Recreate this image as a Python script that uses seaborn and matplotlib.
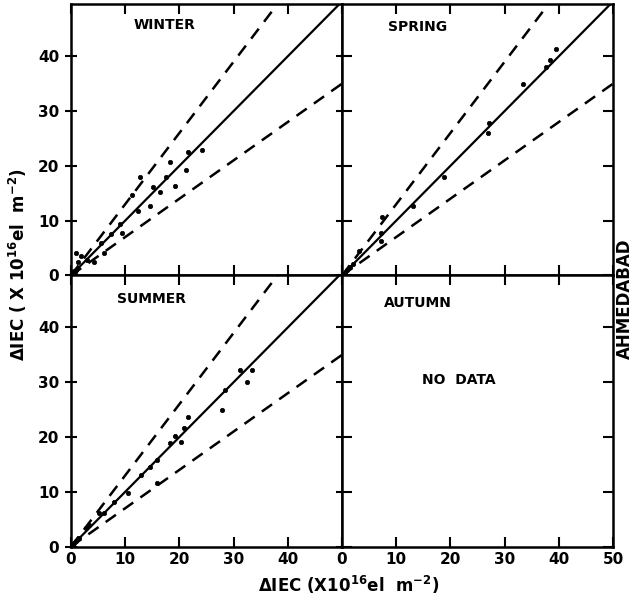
import numpy as np
import pandas as pd
import matplotlib
matplotlib.use("Agg")
import matplotlib.pyplot as plt
import seaborn as sns

# ---- data ----
winter_x = [0.3, 0.5, 0.8, 1.0, 1.2, 0.9, 1.8, 3.0, 4.2, 5.5, 6.1, 7.3, 9.1, 9.4,
            11.2, 12.4, 12.7, 14.5, 15.2, 16.4, 17.6, 18.2, 19.1, 21.2, 21.5, 24.2]
winter_y = [0.4, 0.8, 0.6, 1.0, 2.5, 4.1, 3.5, 2.8, 2.5, 5.9, 4.1, 7.5, 9.3, 7.8,
            14.6, 11.8, 18.0, 12.7, 16.1, 15.2, 18.0, 20.7, 16.4, 19.2, 22.6, 22.9]

spring_x = [0.5, 1.0, 1.5, 2.0, 3.1, 7.1, 7.1, 7.4, 13.0, 18.8, 26.9, 27.2, 33.3, 37.7, 38.3, 39.5]
spring_y = [0.5, 1.0, 1.5, 2.0, 4.4, 6.2, 7.8, 10.6, 12.7, 18.0, 26.0, 27.8, 34.9, 38.0, 39.3, 41.4]

summer_x = [0.3, 0.6, 1.0, 1.5, 2.7, 3.3, 5.2, 6.1, 7.9, 10.6, 13.0, 14.5, 15.8, 15.8,
            18.2, 19.1, 20.3, 20.9, 21.5, 27.9, 28.5, 31.2, 32.4, 33.3]
summer_y = [0.3, 0.6, 1.0, 1.5, 3.4, 4.0, 6.1, 6.1, 8.2, 9.8, 13.1, 14.6, 15.8, 11.6,
            18.9, 20.1, 19.1, 21.6, 23.7, 24.9, 28.5, 32.2, 30.1, 32.2]

seasons = ["WINTER", "SPRING", "SUMMER", "AUTUMN"]
line_slopes = [1.0, 1.3, 0.7]
line_styles = ["solid", "dashed", "dashed"]
line_range = [0, 50]
ticks = [0, 10, 20, 30, 40, 50]

season_data = {
    "WINTER": (winter_x, winter_y),
    "SPRING": (spring_x, spring_y),
    "SUMMER": (summer_x, summer_y),
    "AUTUMN": None,
}

sns.set_style("ticks")
plt.rcParams["font.family"] = ["DejaVu Sans"]
plt.rcParams["font.weight"] = "bold"
plt.rcParams["text.color"] = "black"
plt.rcParams["xtick.color"] = "black"
plt.rcParams["ytick.color"] = "black"
plt.rcParams["xtick.labelcolor"] = "black"
plt.rcParams["ytick.labelcolor"] = "black"

fig, axes = plt.subplots(2, 2, figsize=(6.34, 5.98), dpi=100)
fig.subplots_adjust(left=0.112, right=0.967, bottom=0.086, top=0.993, wspace=0, hspace=0)

label_pos = {"WINTER": (17.3, 45.7), "SPRING": (13.9, 45.4),
             "SUMMER": (14.9, 45.1), "AUTUMN": (13.9, 44.5)}

for ax, season in zip(axes.flat, seasons):
    d = season_data[season]
    if d is not None:
        for s, ls in zip(line_slopes, line_styles):
            lx = np.array(line_range, dtype=float)
            df_l = pd.DataFrame({"x": lx, "y": s * lx})
            if ls == "solid":
                sns.lineplot(data=df_l, x="x", y="y", ax=ax, color="black", lw=1.6)
            else:
                sns.lineplot(data=df_l, x="x", y="y", ax=ax, color="black", lw=1.8,
                             linestyle=(0, (5, 3.5)))
        df = pd.DataFrame({"x": d[0], "y": d[1]})
        sns.scatterplot(data=df, x="x", y="y", ax=ax, color="black", s=10,
                        edgecolor="black", linewidth=0.5, zorder=5)
    else:
        ax.text(21.6, 30.4, "NO  DATA", ha="center", va="center",
                fontsize=10, fontweight="bold", color="black")
    lx, ly = label_pos[season]
    ax.text(lx, ly, season, ha="center", va="center", fontsize=10,
            fontweight="bold", color="black")
    ax.set_xlim(0, 50)
    ax.set_ylim(0, 49.5)
    ax.set_xticks(ticks)
    ax.set_yticks(ticks[:-1])
    ax.set_xlabel("")
    ax.set_ylabel("")
    for sp in ax.spines.values():
        sp.set_visible(True)
        sp.set_linewidth(1.8)
        sp.set_color("black")
    ax.tick_params(direction="in", length=7, width=1.5, top=True, right=True,
                   labelsize=11, pad=4, colors="black")
    for t in ax.get_xticklabels() + ax.get_yticklabels():
        t.set_fontweight("bold")

axes[0, 0].tick_params(labelbottom=False)
axes[0, 1].tick_params(labelbottom=False, labelleft=False)
axes[1, 1].tick_params(labelleft=False)
axes[1, 0].set_xticks(ticks)
axes[1, 0].set_xticklabels([str(t) for t in ticks[:-1]] + [""], fontweight="bold")
axes[1, 0].tick_params(direction="inout", length=9, axis="y")
axes[0, 0].tick_params(direction="inout", length=9, axis="y")

fig.text(0.55, 0.022, r"$\Delta$IEC (X10$^{16}$el  m$^{-2}$)", ha="center", va="center",
         fontsize=12, fontweight="bold", color="black")
fig.text(0.029, 0.557, r"$\Delta$IEC ( X 10$^{16}$el  m$^{-2}$)", ha="center", va="center",
         fontsize=12, fontweight="bold", rotation=90, color="black")
fig.text(0.985, 0.5, "AHMEDABAD", ha="center", va="center", fontsize=12,
         fontweight="bold", rotation=90, color="black")

fig.savefig("out.png", dpi=100)
